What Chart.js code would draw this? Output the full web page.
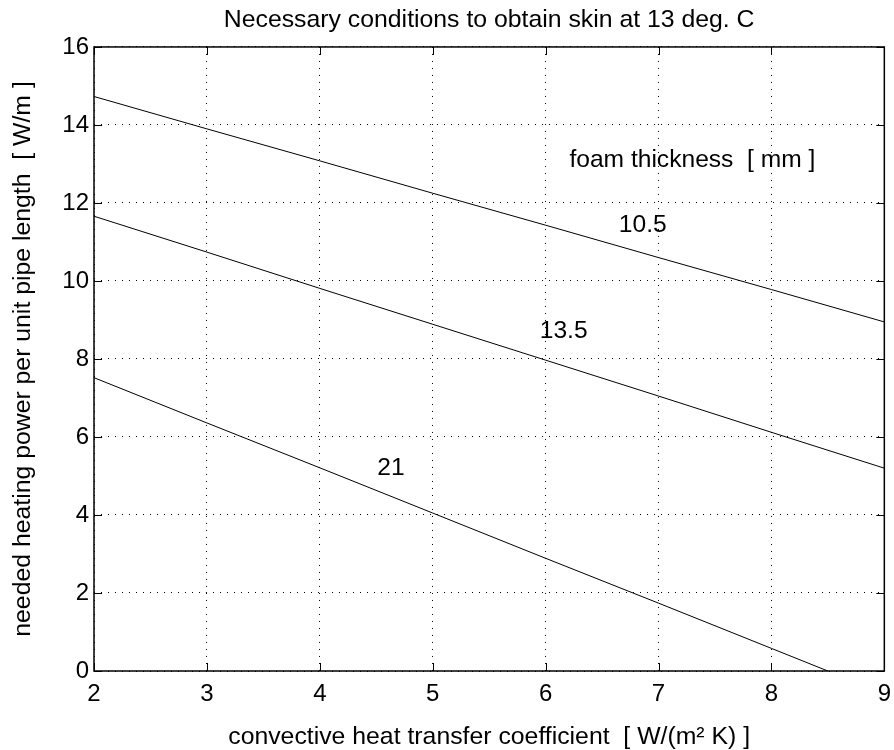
<!DOCTYPE html>
<html><head><meta charset="utf-8">
<script src="https://cdn.jsdelivr.net/npm/chart.js@4.4.1/dist/chart.umd.min.js"></script>
<style>html,body{margin:0;padding:0;background:#fff}#wrap{width:894px;height:750px}</style>
</head><body>
<div id="wrap"><canvas id="c" width="894" height="750"></canvas></div>
<script>
// ---- data ----
const chartTitle = 'Necessary conditions to obtain skin at 13 deg. C';
const xAxisTitle = 'convective heat transfer coefficient  [ W/(m\u00b2 K) ]';
const yAxisTitle = 'needed heating power per unit pipe length  [ W/m ]';
const legendHeading = 'foam thickness  [ mm ]';
const seriesNames = ['10.5', '13.5', '21'];
const coefA = [2, 3, 4, 5, 6, 7, 8, 9];
const power105 = [14.73, 13.90, 13.08, 12.25, 11.43, 10.60, 9.78, 8.95];
const power135 = [11.66, 10.74, 9.81, 8.89, 7.97, 7.05, 6.12, 5.20];
const coefB = [2, 3, 4, 5, 6, 7, 8, 8.5];
const power21 = [7.52, 6.36, 5.21, 4.05, 2.89, 1.74, 0.58, 0.0];
const xRange = [2, 9];
const yRange = [0, 16];

// ---- annotation anchors (data units) ----
const headingAnchor = {x: 7.30, y: 13.09};
const nameAnchors = [{x: 6.86, y: 11.42}, {x: 6.16, y: 8.71}, {x: 4.63, y: 5.20}];

const FONT = '"Liberation Sans", Arial, Helvetica, sans-serif';

function pts(xs, ys) { return xs.map((v, i) => ({x: v, y: ys[i]})); }

const matlabFrame = {
  id: 'matlabFrame',
  afterDatasetsDraw(chart) {
    const {ctx, chartArea: a, scales: {x, y}} = chart;
    ctx.save();
    ctx.strokeStyle = '#000';
    ctx.lineWidth = 1;
    const L = 8;
    ctx.beginPath();
    x.ticks.forEach(t => {
      const px = Math.round(x.getPixelForValue(t.value)) + 0.5;
      ctx.moveTo(px, a.bottom); ctx.lineTo(px, a.bottom - L);
      ctx.moveTo(px, a.top); ctx.lineTo(px, a.top + L);
    });
    y.ticks.forEach(t => {
      const py = Math.round(y.getPixelForValue(t.value)) + 0.5;
      ctx.moveTo(a.left, py); ctx.lineTo(a.left + L, py);
      ctx.moveTo(a.right, py); ctx.lineTo(a.right - L, py);
    });
    ctx.stroke();
    ctx.lineWidth = 1.5;
    ctx.strokeRect(a.left, a.top, a.right - a.left, a.bottom - a.top);
    ctx.fillStyle = '#000';
    ctx.font = '24.6px ' + FONT;
    ctx.textAlign = 'center';
    ctx.textBaseline = 'middle';
    ctx.fillText(legendHeading, x.getPixelForValue(headingAnchor.x), y.getPixelForValue(headingAnchor.y));
    seriesNames.forEach((n, i) => {
      ctx.fillText(n, x.getPixelForValue(nameAnchors[i].x), y.getPixelForValue(nameAnchors[i].y));
    });
    ctx.restore();
  }
};

const lineStyle = {borderColor: '#000', borderWidth: 1, pointRadius: 0, showLine: true, fill: false, tension: 0};

new Chart(document.getElementById('c'), {
  type: 'scatter',
  data: {
    datasets: [
      Object.assign({label: seriesNames[0], data: pts(coefA, power105)}, lineStyle),
      Object.assign({label: seriesNames[1], data: pts(coefA, power135)}, lineStyle),
      Object.assign({label: seriesNames[2], data: pts(coefB, power21)}, lineStyle)
    ]
  },
  options: {
    responsive: false,
    animation: false,
    devicePixelRatio: 1,
    layout: {padding: {left: 0, right: 8, top: 0, bottom: 0}},
    plugins: {
      legend: {display: false},
      tooltip: {enabled: false},
      title: {
        display: true, text: chartTitle, fullSize: false, color: '#000',
        font: {family: FONT, size: 24.8, weight: 'normal', lineHeight: 1.2},
        padding: {top: 5, bottom: 12.2}
      }
    },
    scales: {
      x: {
        type: 'linear', min: xRange[0], max: xRange[1],
        ticks: {stepSize: 1, color: '#000', padding: 3, font: {family: FONT, size: 24, lineHeight: 1.7}},
        grid: {color: '#000', lineWidth: 1, drawTicks: false},
        border: {display: false, dash: [1, 6]},
        title: {display: true, text: xAxisTitle, color: '#000', font: {family: FONT, size: 24.8, lineHeight: 1.0}, padding: {top: 0, bottom: 0.5}},
        afterFit: s => { s.height = 79; }
      },
      y: {
        type: 'linear', min: yRange[0], max: yRange[1],
        ticks: {stepSize: 2, color: '#000', padding: 5, font: {family: FONT, size: 24}},
        grid: {color: '#000', lineWidth: 1, drawTicks: false},
        border: {display: false, dash: [1, 6]},
        title: {display: true, text: yAxisTitle, color: '#000', font: {family: FONT, size: 24.8, lineHeight: 1.2}, padding: {top: 8, bottom: 0}},
        afterFit: s => { s.width = 94; }
      }
    }
  },
  plugins: [matlabFrame]
});
</script>
</body></html>
